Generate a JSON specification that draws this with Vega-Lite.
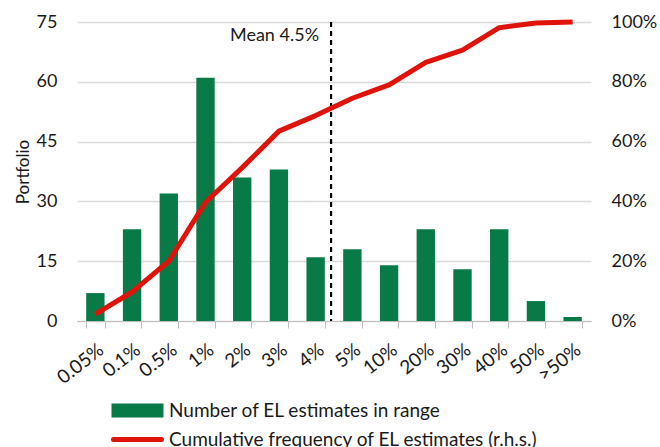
{
  "$schema": "https://vega.github.io/schema/vega-lite/v6.json",
  "width": 514,
  "height": 299,
  "autosize": {"type": "none"},
  "padding": {"left": 77, "top": 22, "right": 69, "bottom": 126},
  "background": "white",
  "config": {
    "view": {"stroke": null},
    "font": "Lato",
    "axis": {"labelFont": "Lato", "titleFont": "Lato", "labelColor": "#1a1a1a", "titleColor": "#1a1a1a"},
    "legend": {"labelFont": "Lato"}
  },
  "datasets": {
    "bins": [
      {"cat": "0.05%", "count": 7, "cum": 0.023},
      {"cat": "0.1%", "count": 23, "cum": 0.097},
      {"cat": "0.5%", "count": 32, "cum": 0.2},
      {"cat": "1%", "count": 61, "cum": 0.397},
      {"cat": "2%", "count": 36, "cum": 0.513},
      {"cat": "3%", "count": 38, "cum": 0.635},
      {"cat": "4%", "count": 16, "cum": 0.687},
      {"cat": "5%", "count": 18, "cum": 0.745},
      {"cat": "10%", "count": 14, "cum": 0.79},
      {"cat": "20%", "count": 23, "cum": 0.865},
      {"cat": "30%", "count": 13, "cum": 0.906},
      {"cat": "40%", "count": 23, "cum": 0.981},
      {"cat": "50%", "count": 5, "cum": 0.997},
      {"cat": ">50%", "count": 1, "cum": 1.0}
    ],
    "mean": [{"cat": "4%", "label": "Mean 4.5%"}]
  },
  "layer": [
    {
      "layer": [
        {
          "data": {"name": "bins"},
          "mark": {"type": "bar", "color": "#077A48"},
          "encoding": {
            "x": {
              "field": "cat", "type": "nominal",
              "scale": {
                "domain": ["0.05%", "0.1%", "0.5%", "1%", "2%", "3%", "4%", "5%", "10%", "20%", "30%", "40%", "50%", ">50%"],
                "paddingInner": 0.5, "paddingOuter": 0.25
              },
              "axis": {
                "title": null, "labelAngle": -38, "labelFontSize": 19, "tickBand": "extent",
                "domainColor": "#BFBFBF", "tickColor": "#BFBFBF", "tickSize": 7, "labelPadding": 12,
                "grid": false
              }
            },
            "y": {
              "field": "count", "type": "quantitative",
              "scale": {"domain": [0, 75], "nice": false},
              "axis": {
                "values": [0, 15, 30, 45, 60, 75], "title": "Portfolio", "titleFontWeight": "normal",
                "titleFontSize": 17, "titlePadding": 4, "labelFontSize": 18, "labelPadding": 20,
                "domain": false, "ticks": false, "grid": true, "gridColor": "#D9D9D9", "gridWidth": 1.3
              }
            },
            "color": {
              "datum": "Number of EL estimates in range",
              "scale": {
                "domain": ["Number of EL estimates in range", "Cumulative frequency of EL estimates (r.h.s.)"],
                "range": ["#077A48", "#E0130A"]
              },
              "legend": {
                "title": null, "orient": "none", "legendX": 30, "legendY": 379, "direction": "vertical",
                "labelFontSize": 19, "labelColor": "#1a1a1a", "labelLimit": 0, "symbolSize": 100, "labelOffset": 43,
                "rowPadding": 8,
                "symbolType": "M-1,-1.4H9.4V1.4H-1Z",
                "encode": {
                  "symbols": {
                    "update": {
                      "shape": {"signal": "datum.value === 'Number of EL estimates in range' ? 'M-1,-1.4H9.4V1.4H-1Z' : 'M-0.6,0H9.0'"},
                      "fill": {"signal": "datum.value === 'Number of EL estimates in range' ? '#077A48' : 'transparent'"},
                      "stroke": {"signal": "datum.value === 'Number of EL estimates in range' ? '#077A48' : '#E0130A'"},
                      "strokeWidth": {"signal": "datum.value === 'Number of EL estimates in range' ? 0 : 5"},
                      "strokeCap": {"value": "round"},
                      "opacity": {"value": 1}
                    }
                  }
                }
              }
            }
          }
        },
        {
          "data": {"name": "mean"},
          "mark": {"type": "rule", "color": "black", "strokeWidth": 2.2, "strokeDash": [5, 4]},
          "encoding": {
            "x": {"field": "cat", "type": "nominal", "bandPosition": 1.34}
          }
        },
        {
          "data": {"name": "mean"},
          "mark": {"type": "text", "align": "right", "baseline": "middle", "dx": -12, "fontSize": 18, "color": "#1a1a1a"},
          "encoding": {
            "x": {"field": "cat", "type": "nominal", "bandPosition": 1.34},
            "y": {"datum": 71.5},
            "text": {"field": "label"}
          }
        }
      ]
    },
    {
      "data": {"name": "bins"},
      "mark": {"type": "line", "strokeWidth": 5, "strokeJoin": "round"},
      "encoding": {
        "x": {"field": "cat", "type": "nominal"},
        "y": {
          "field": "cum", "type": "quantitative",
          "scale": {"domain": [0, 1], "nice": false},
          "axis": {
            "orient": "right", "values": [0, 0.2, 0.4, 0.6, 0.8, 1], "format": ".0%", "title": null,
            "labelFontSize": 18, "labelPadding": 20, "domain": false, "ticks": false, "grid": false
          }
        },
        "color": {"datum": "Cumulative frequency of EL estimates (r.h.s.)"}
      }
    }
  ],
  "resolve": {"scale": {"y": "independent"}}
}
